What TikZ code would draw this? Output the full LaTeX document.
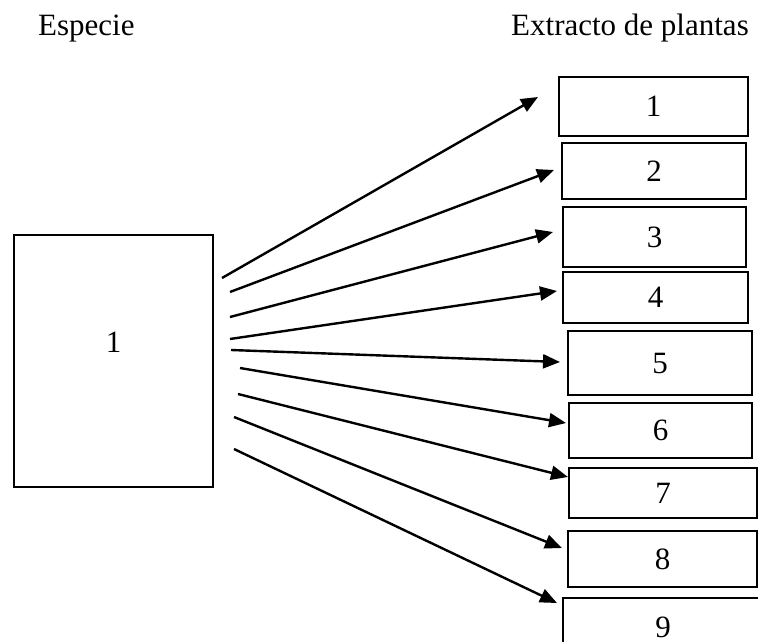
\documentclass[tikz,border=0pt]{standalone}
\usepackage{fontspec}
\setmainfont{Liberation Serif}
\usetikzlibrary{arrows.meta}
\tikzset{
  boxnode/.style={draw=black, line width=1.6pt, inner sep=0pt, font=\fontsize{31}{36}\selectfont},
  conn/.style={line width=2.4pt, -{Triangle[length=17pt,width=14pt]}},
  title/.style={font=\fontsize{31}{36}\selectfont, inner sep=0pt, anchor=base west}
}
\begin{document}
\begin{tikzpicture}[x=1pt,y=-1pt]
\useasboundingbox (0,0) rectangle (758,642);
\fill[white] (0,0) rectangle (758,642);
% titles
\node[title] (t1) at (38,36) {Especie};
\node[title] (t2) at (511,36) {Extracto de plantas};
% left box
\node[boxnode, minimum width=199pt, minimum height=252pt,
      label={[font=\fontsize{31}{36}\selectfont, yshift=19pt]center:1}] (sp) at (113.5,361) {};
% right boxes: center x, center y, width, height
\node[boxnode, minimum width=189pt, minimum height=59pt] (b1) at (653.5,106.5) {1};
\node[boxnode, minimum width=184pt, minimum height=56pt] (b2) at (654,171) {2};
\node[boxnode, minimum width=183pt, minimum height=60pt] (b3) at (654.5,237) {3};
\node[boxnode, minimum width=185pt, minimum height=51pt] (b4) at (655.5,297.5) {4};
\node[boxnode, minimum width=184pt, minimum height=64pt] (b5) at (660,363) {5};
\node[boxnode, minimum width=183pt, minimum height=55pt] (b6) at (660.5,430.5) {6};
\node[boxnode, minimum width=188pt, minimum height=50pt] (b7) at (663,493) {7};
\node[boxnode, minimum width=189pt, minimum height=56pt] (b8) at (662.5,559) {8};
\node[boxnode, minimum width=200pt, minimum height=58pt] (b9) at (663,627) {9};
% connector end points
\coordinate (s1) at (222,278);  \coordinate (e1) at (538,97);
\coordinate (s2) at (230,292);  \coordinate (e2) at (554,170);
\coordinate (s3) at (230,317);  \coordinate (e3) at (553,232);
\coordinate (s4) at (230,339);  \coordinate (e4) at (557,291);
\coordinate (s5) at (231,350);  \coordinate (e5) at (560,362);
\coordinate (s6) at (240,368);  \coordinate (e6) at (566,423);
\coordinate (s7) at (238,394);  \coordinate (e7) at (568,477);
\coordinate (s8) at (234,417);  \coordinate (e8) at (562,548);
\coordinate (s9) at (234,449);  \coordinate (e9) at (557,603);
\foreach \i in {1,...,9}{\draw[conn] (s\i) -- (e\i);}
\end{tikzpicture}
\end{document}
